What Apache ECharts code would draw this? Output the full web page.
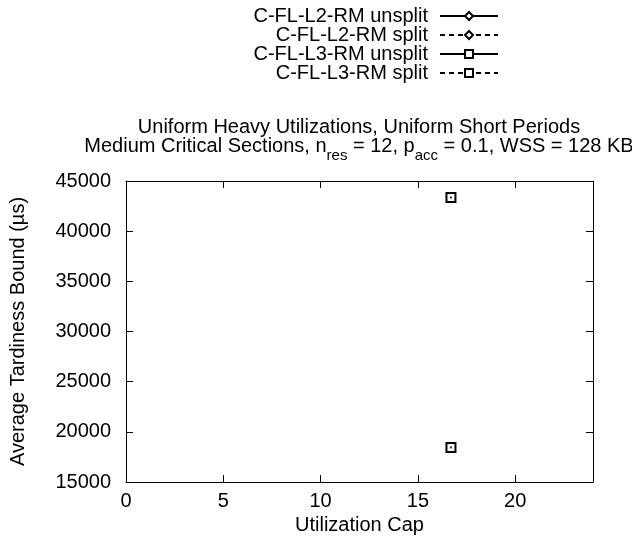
<!DOCTYPE html>
<html><head><meta charset="utf-8">
<script src="https://cdn.jsdelivr.net/npm/echarts@6/dist/echarts.min.js"></script>
<style>html,body{margin:0;padding:0;background:#fff}#c{width:632px;height:548px}</style>
</head><body><div id="c"></div>
<script>
const seriesNames = ['C-FL-L2-RM unsplit','C-FL-L2-RM split','C-FL-L3-RM unsplit','C-FL-L3-RM split'];
const l2Unsplit = [];
const l2Split = [];
const l3Unsplit = [[16.7, 43350]];
const l3Split = [[16.7, 18450]];
const xTicks = [0,5,10,15,20];
const yTicks = [15000,20000,25000,30000,35000,40000,45000];

const FONT = 'Liberation Sans';
const FS = 20;
const chart = echarts.init(document.getElementById('c'));
const symDiamond = 'emptyDiamond', symRect = 'emptyRect';
function mk(name, data, sym, dashed){
  return {name, type:'line', data, symbol:sym, symbolSize: sym===symRect?9:8, showSymbol:true,
    itemStyle:{color:'#000', borderColor:'#000', borderWidth:1},
    lineStyle:{color:'#000', width:1, type: dashed?[5,4]:'solid'},
    emphasis:{disabled:true}, silent:true, z:3};
}
const tickStyle = {show:true, inside:true, length:7, lineStyle:{color:'#000'}};
const lineStyle = {show:true, onZero:false, lineStyle:{color:'#000', width:1}};
chart.setOption({
  animation:false,
  textStyle:{fontFamily:FONT},
  title:{
    text:'Uniform Heavy Utilizations, Uniform Short Periods\nMedium Critical Sections, n{s|res} = 12, p{s|acc} = 0.1, WSS = 128 KB',
    left:359, top:118, textAlign:'center', padding:0,
    textStyle:{fontFamily:FONT, fontSize:FS, fontWeight:'normal', color:'#000', lineHeight:19,
      rich:{s:{fontFamily:FONT, fontSize:15, color:'#000', verticalAlign:'bottom', lineHeight:14, padding:[0,0,-7,0]}}}
  },
  legend:{
    orient:'vertical', align:'right', right:128, top:1, itemWidth:58, itemHeight:10, itemGap:-1,
    textStyle:{fontFamily:FONT, fontSize:FS, color:'#000', lineHeight:19, height:19, padding:[0,7,0,0]},
    data: seriesNames, selectedMode:false
  },
  grid:{left:125, right:39, top:181, bottom:66, containLabel:false},
  xAxis:[{
    type:'value', min:0, max:24, interval:5, position:'bottom',
    name:'Utilization Cap', nameLocation:'middle', nameGap:33,
    nameTextStyle:{fontFamily:FONT, fontSize:FS, color:'#000'},
    axisLabel:{fontFamily:FONT, fontSize:FS, color:'#000', margin:9, customValues: xTicks},
    axisTick:Object.assign({customValues:xTicks}, tickStyle),
    axisLine:lineStyle, splitLine:{show:false}
  },{
    type:'value', min:0, max:24, interval:5, position:'top',
    axisLabel:{show:false}, axisTick:Object.assign({customValues:xTicks}, tickStyle),
    axisLine:lineStyle, splitLine:{show:false}
  }],
  yAxis:[{
    type:'value', min:15000, max:45000, interval:5000, position:'left',
    name:'Average Tardiness Bound (µs)', nameLocation:'middle', nameGap:98,
    nameTextStyle:{fontFamily:FONT, fontSize:FS, color:'#000'},
    axisLabel:{fontFamily:FONT, fontSize:FS, color:'#000', margin:15, formatter: v => String(v), customValues:yTicks},
    axisTick:Object.assign({customValues:yTicks}, tickStyle), axisLine:lineStyle, splitLine:{show:false}
  },{
    type:'value', min:15000, max:45000, interval:5000, position:'right',
    axisLabel:{show:false}, axisTick:Object.assign({customValues:yTicks}, tickStyle), axisLine:lineStyle, splitLine:{show:false}
  }],
  series:[
    mk(seriesNames[0], l2Unsplit, symDiamond, false),
    mk(seriesNames[1], l2Split, symDiamond, true),
    mk(seriesNames[2], l3Unsplit, symRect, false),
    mk(seriesNames[3], l3Split, symRect, true),
    {type:'scatter', data:l3Unsplit.concat(l3Split), symbol:'rect', symbolSize:2, itemStyle:{color:'#000'}, silent:true, z:4}
  ]
});
</script></body></html>
